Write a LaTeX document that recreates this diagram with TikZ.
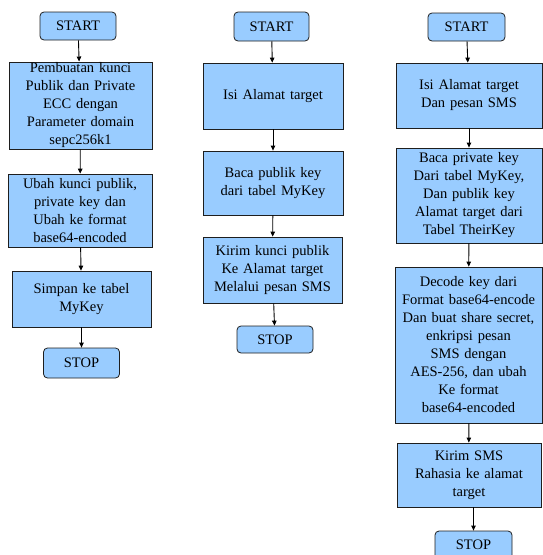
\documentclass[tikz,border=0pt]{standalone}
\usepackage{fontspec}
\setmainfont{Liberation Serif}
\usepackage{tikz}
\usetikzlibrary{arrows.meta,positioning}
\definecolor{boxblue}{RGB}{153,204,255}
\definecolor{boxedge}{RGB}{30,30,30}
\tikzset{
  procbox/.style={draw=boxedge, fill=boxblue, line width=0.8pt, align=center,
                  inner sep=1pt, font=\fontsize{14.5}{18}\selectfont},
  termbox/.style={procbox, rounded corners=4pt, minimum width=76pt, minimum height=28pt},
  arrow/.style={-{Triangle[length=5pt,width=4.5pt]}, line width=0.9pt},
}

\begin{document}
\begin{tikzpicture}[x=1pt,y=1pt]
\useasboundingbox (0,0) rectangle (542,-555);

% ================= column 1 =================
\node[termbox] (kstart) at (78,-26) {START};
\node[procbox, minimum width=143pt, minimum height=85pt, text width=141pt] (kgen) at (80.5,-105.5)
  {Pembuatan kunci\\Publik dan Private\\ECC dengan\\Parameter domain\\sepc256k1};
\node[procbox, minimum width=144pt, minimum height=73pt, text width=142pt] (kenc) at (80,-210.5)
  {Ubah kunci publik,\\private key dan\\Ubah ke format\\base64-encoded};
\node[procbox, minimum width=139pt, minimum height=56pt, text width=137pt] (ksave) at (81.5,-299)
  {Simpan ke tabel\\MyKey};
\node[termbox, minimum height=30pt] (kstop) at (81.5,-363) {STOP};

\draw[arrow] (kstart) -- (kgen);
\draw[arrow] (kgen) -- (kenc);
\draw[arrow] (kenc) -- (ksave);
\draw[arrow] (ksave) -- (kstop);

% ================= column 2 =================
\node[termbox, minimum width=75pt, minimum height=29pt] (pstart) at (271.5,-26.5) {START};
\node[procbox, minimum width=140pt, minimum height=66pt, text width=138pt] (paddr) at (273,-96)
  {Isi Alamat target};
\node[procbox, minimum width=140pt, minimum height=64pt, text width=138pt] (pread) at (273,-183)
  {Baca publik key\\dari tabel MyKey};
\node[procbox, minimum width=139pt, minimum height=66pt, text width=137pt] (psend) at (272.5,-270)
  {Kirim kunci publik\\Ke Alamat target\\Melalui pesan SMS};
\node[termbox, minimum height=27pt] (pstop) at (275,-339.5) {STOP};

\draw[arrow] (pstart) -- (paddr);
\draw[arrow] (paddr) -- (pread);
\draw[arrow] (pread) -- (psend);
\draw[arrow] (psend) -- (pstop);

% ================= column 3 =================
\node[termbox, minimum width=77pt] (sstart) at (466.5,-27) {START};
\node[procbox, minimum width=146pt, minimum height=65pt, text width=144pt] (smsg) at (469,-95.5)
  {Isi Alamat target\\Dan pesan SMS};
\node[procbox, minimum width=146pt, minimum height=95pt, text width=144pt] (skeys) at (469,-195.5)
  {Baca private key\\Dari tabel MyKey,\\Dan publik key\\Alamat target dari\\Tabel TheirKey};
\node[procbox, minimum width=147pt, minimum height=156pt, text width=145pt] (scrypt) at (468.5,-345)
  {Decode key dari\\Format base64-encode\\Dan buat share secret,\\enkripsi pesan\\SMS dengan\\AES-256, dan ubah\\Ke format\\base64-encoded};
\node[procbox, minimum width=144pt, minimum height=64pt, text width=142pt] (ssend) at (469,-475)
  {Kirim SMS\\Rahasia ke alamat\\target};
\node[termbox, minimum width=77pt] (sstop) at (473.5,-545) {STOP};

\draw[arrow] (sstart) -- (smsg);
\draw[arrow] (smsg) -- (skeys);
\draw[arrow] (skeys) -- (scrypt);
\draw[arrow] (scrypt) -- (ssend);
\draw[arrow] (ssend.south -| sstop) -- (sstop);

\end{tikzpicture}
\end{document}
